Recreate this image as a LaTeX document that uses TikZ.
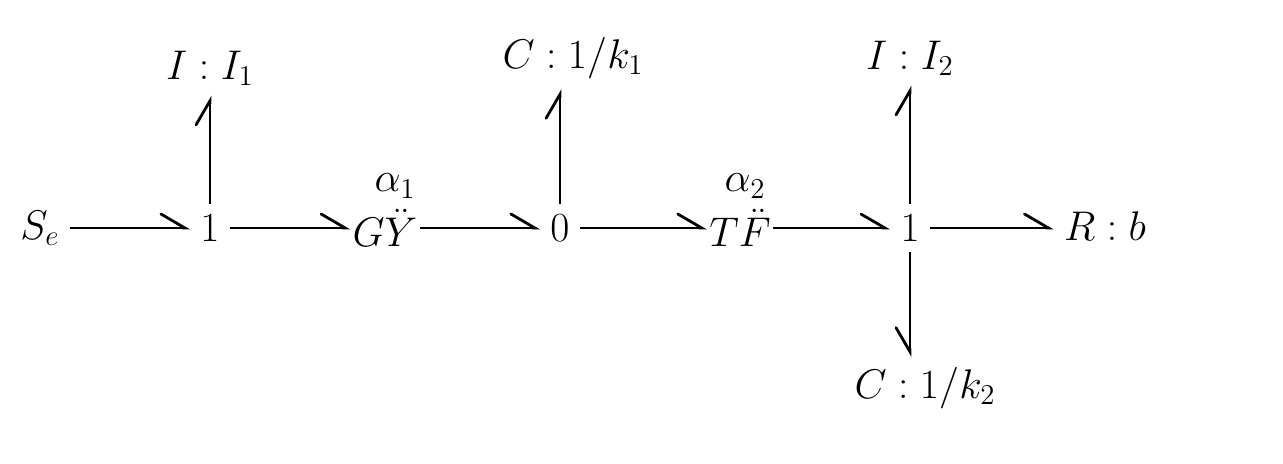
\documentclass[tikz,border=0pt]{standalone}
\usetikzlibrary{arrows.meta}
\begin{document}
\begin{tikzpicture}[x=0.5pt,y=-0.5pt,
  lbl/.style={font=\fontsize{21}{25}\selectfont,inner sep=5pt},
  bond/.style={line width=1.4pt,-{Straight Barb[left,length=12pt,width=14pt,line cap=round]}},
  bondr/.style={line width=1.4pt,-{Straight Barb[right,length=12pt,width=14pt,line cap=round]}}]
\useasboundingbox (0,0) rectangle (1283,464);
\node[lbl] (se) at (40,228) {$S_e$};
\node[lbl] (j1) at (210,228) {$1$};
\node[lbl,inner sep=1pt] (gy) at (385,228) {$G\ddot{Y}$};
\node[lbl,inner sep=0pt] at (395,186) {$\alpha_1$};
\node[lbl] (j0) at (560,228) {$0$};
\node[lbl,inner sep=1pt] (tf) at (740,228) {$T\ddot{F}$};
\node[lbl,inner sep=0pt] at (745,186) {$\alpha_2$};
\node[lbl] (j2) at (910,228) {$1$};
\node[lbl] (r) at (1105,226) {$R:b$};
\node[lbl] (i1) at (210,68) {$I:I_1$};
\node[lbl] (c1) at (573,58) {$C:1/k_1$};
\node[lbl] (i2) at (910,58) {$I:I_2$};
\node[lbl] (c2) at (925,388) {$C:1/k_2$};
\draw[bond] (se) -- (j1);
\draw[bond] (j1) -- (gy);
\draw[bond] (gy) -- (j0);
\draw[bond] (j0) -- (tf);
\draw[bond] (tf) -- (j2);
\draw[bond] (j2) -- (j2 -| r.west);
\draw[bond] (j1.north) -- (i1.south -| j1.north);
\draw[bond] (j0.north) -- (j0.north |- c1.south);
\draw[bond] (j2.north) -- (i2.south);
\draw[bondr] (j2.south) -- (j2.south |- c2.north);
\end{tikzpicture}
\end{document}
